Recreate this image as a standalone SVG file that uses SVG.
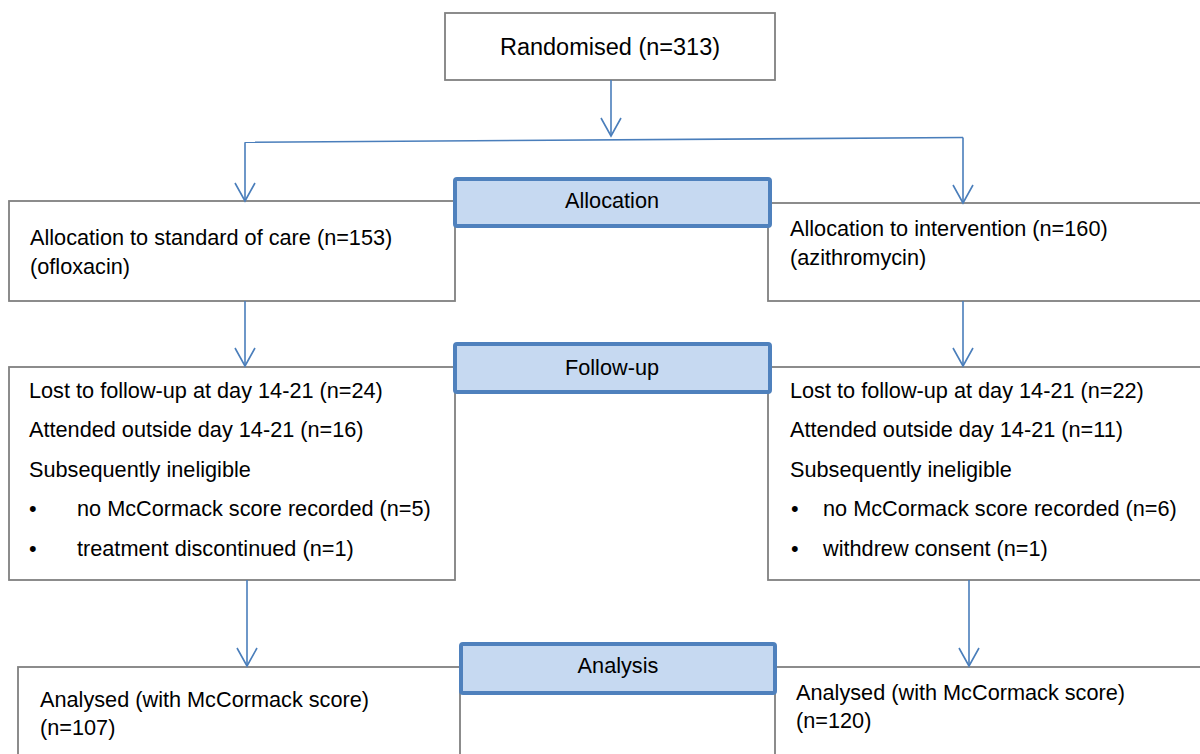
<svg xmlns="http://www.w3.org/2000/svg" width="1200" height="754" viewBox="0 0 1200 754">
<defs>
<style>
.box{fill:#fff;stroke:#808080;stroke-width:1.8}
.lbl{fill:#C6D9F1;stroke:#4F81BD;stroke-width:4}
.t{font-family:"Liberation Sans",Arial,sans-serif;font-size:21.7px;fill:#000}
.c{text-anchor:middle}
.con{fill:none;stroke:#4A7EBB;stroke-width:1.6}
</style>
<marker id="arr" markerUnits="userSpaceOnUse" markerWidth="24" markerHeight="24" viewBox="-20 -12 22 24" refX="0" refY="0" orient="auto">
<path d="M-18,-10 L0,0 L-18,10" fill="none" stroke="#4A7EBB" stroke-width="1.6"/>
</marker>
</defs>
<rect width="1200" height="754" fill="#fff"/>

<g id="randomised">
<rect class="box" x="445" y="13" width="330" height="67"/>
<text class="t c" x="610" y="55" style="font-size:23.5px">Randomised (n=313)</text>
</g>

<g id="alloc-left">
<rect class="box" x="9" y="201" width="446" height="100"/>
<text class="t" x="30" y="245">Allocation to standard of care (n=153)</text>
<text class="t" x="30" y="274">(ofloxacin)</text>
</g>

<g id="alloc-right">
<rect class="box" x="768" y="203" width="440" height="98"/>
<text class="t" x="790" y="236">Allocation to intervention (n=160)</text>
<text class="t" x="790" y="265">(azithromycin)</text>
</g>

<g id="followup-left">
<rect class="box" x="9" y="367" width="446" height="213"/>
<text class="t" x="29" y="398">Lost to follow-up at day 14-21 (n=24)</text>
<text class="t" x="29" y="437">Attended outside day 14-21 (n=16)</text>
<text class="t" x="29" y="477">Subsequently ineligible</text>
<text class="t" x="29" y="516">•</text>
<text class="t" x="77" y="516">no McCormack score recorded (n=5)</text>
<text class="t" x="29" y="556">•</text>
<text class="t" x="77" y="556">treatment discontinued (n=1)</text>
</g>

<g id="followup-right">
<rect class="box" x="768" y="367" width="440" height="213"/>
<text class="t" x="790" y="398">Lost to follow-up at day 14-21 (n=22)</text>
<text class="t" x="790" y="437">Attended outside day 14-21 (n=11)</text>
<text class="t" x="790" y="477">Subsequently ineligible</text>
<text class="t" x="791" y="516">•</text>
<text class="t" x="823" y="516">no McCormack score recorded (n=6)</text>
<text class="t" x="791" y="556">•</text>
<text class="t" x="823" y="556">withdrew consent (n=1)</text>
</g>

<g id="analysis-left">
<rect class="box" x="18" y="667" width="442" height="100"/>
<text class="t" x="40" y="707">Analysed (with McCormack score)</text>
<text class="t" x="40" y="735">(n=107)</text>
</g>

<g id="analysis-right">
<rect class="box" x="775" y="667" width="440" height="100"/>
<text class="t" x="796" y="700">Analysed (with McCormack score)</text>
<text class="t" x="796" y="728">(n=120)</text>
</g>

<g id="label-allocation">
<rect class="lbl" x="455" y="179" width="315" height="47" rx="2"/>
<text class="t c" x="612" y="208">Allocation</text>
</g>

<g id="label-followup">
<rect class="lbl" x="455" y="344" width="315" height="48" rx="2"/>
<text class="t c" x="612" y="375">Follow-up</text>
</g>

<g id="label-analysis">
<rect class="lbl" x="461" y="644" width="314" height="49" rx="2"/>
<text class="t c" x="618" y="673">Analysis</text>
</g>

<g id="connectors">
<path class="con" d="M611,80 L611,136" marker-end="url(#arr)"/>
<path class="con" d="M963,137.5 L245,142.3"/>
<path class="con" d="M245,142.3 L245,201" marker-end="url(#arr)"/>
<path class="con" d="M963,137.5 L963,203" marker-end="url(#arr)"/>
<path class="con" d="M245,301 L245,366" marker-end="url(#arr)"/>
<path class="con" d="M963,301 L963,366" marker-end="url(#arr)"/>
<path class="con" d="M247,580 L247,666" marker-end="url(#arr)"/>
<path class="con" d="M969,580 L969,666" marker-end="url(#arr)"/>
</g>
</svg>
